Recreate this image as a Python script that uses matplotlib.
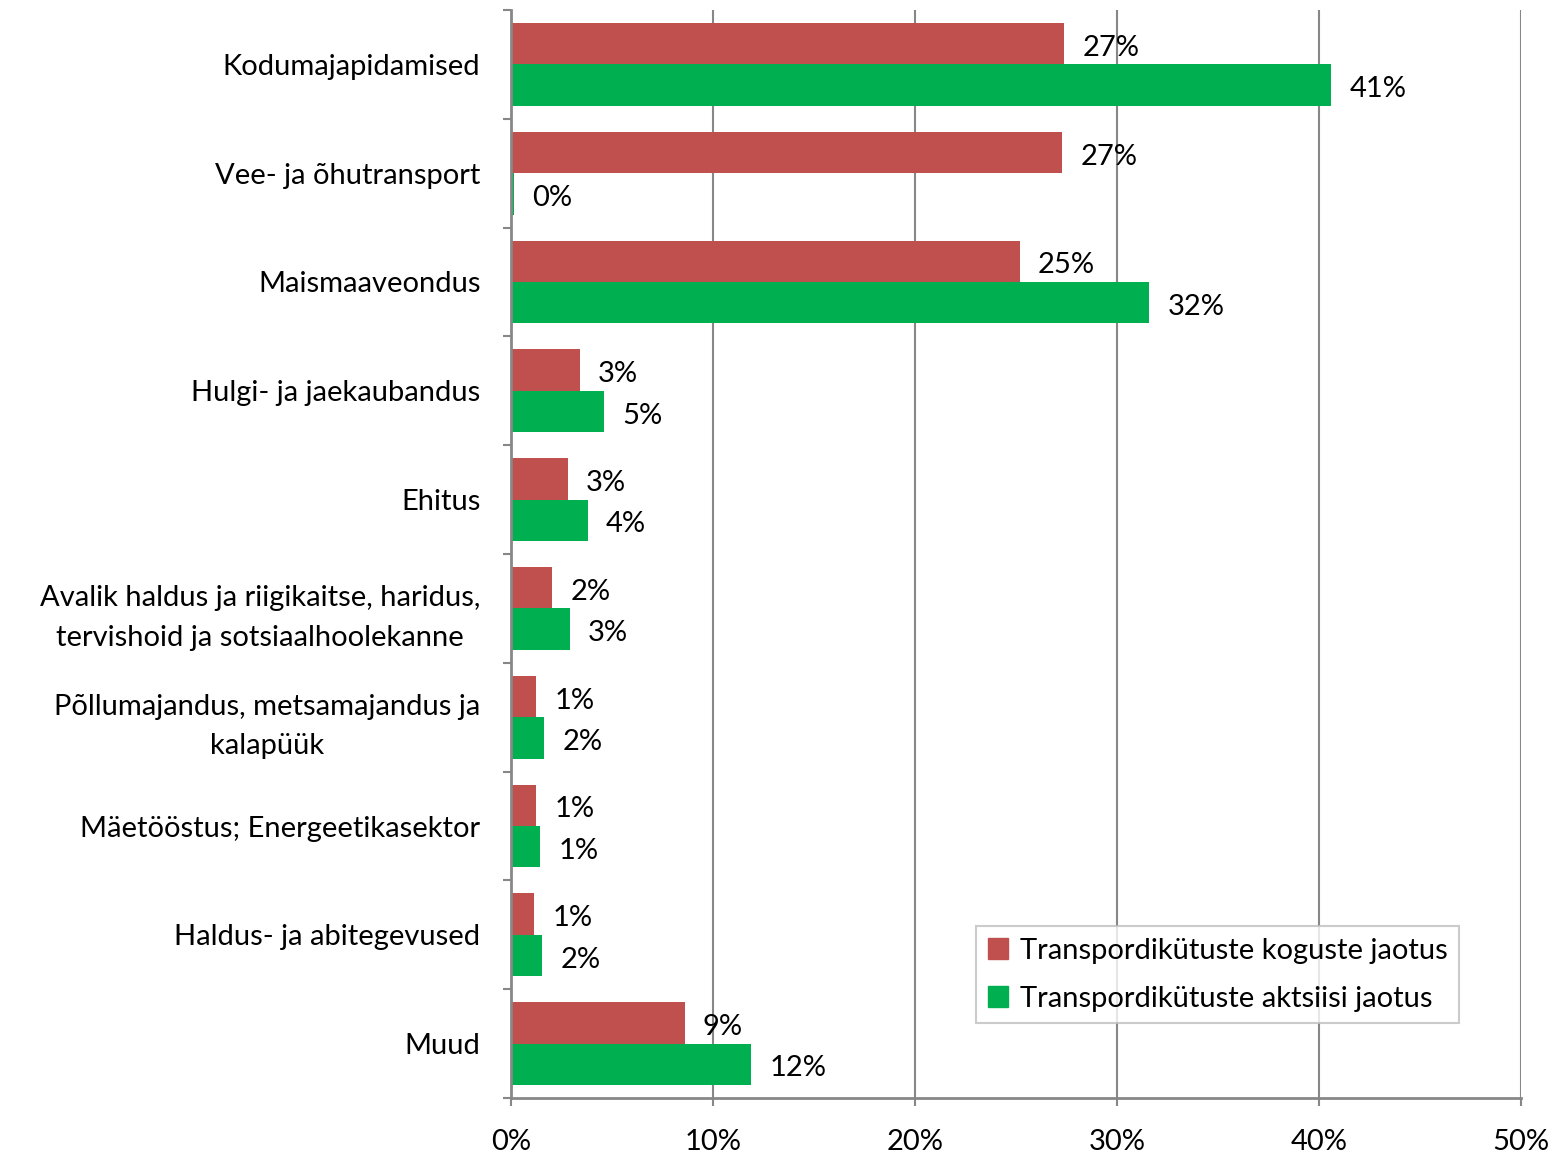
import matplotlib
matplotlib.use("Agg")
import matplotlib.pyplot as plt
from matplotlib.patches import Patch
import numpy as np

plt.rcParams['font.family'] = ['Lato', 'DejaVu Sans']

categories = [
    "Kodumajapidamised",
    "Vee- ja õhutransport",
    "Maismaaveondus",
    "Hulgi- ja jaekaubandus",
    "Ehitus",
    "Avalik haldus ja riigikaitse, haridus,\ntervishoid ja sotsiaalhoolekanne",
    "Põllumajandus, metsamajandus ja\nkalapüük",
    "Mäetööstus; Energeetikasektor",
    "Haldus- ja abitegevused",
    "Muud",
]
koguste = [27.4, 27.3, 25.2, 3.4, 2.8, 2.05, 1.25, 1.25, 1.15, 8.6]
aktsiisi = [40.6, 0.15, 31.6, 4.6, 3.8, 2.9, 1.65, 1.45, 1.55, 11.9]
series_names = ["Transpordikütuste koguste jaotus", "Transpordikütuste aktsiisi jaotus"]
xticks = [0, 10, 20, 30, 40, 50]

RED = "#C0504D"
GREEN = "#00B050"
AX = "#878787"

fig = plt.figure(figsize=(15.58, 11.55), dpi=100)
ax = fig.add_axes([511/1558, 1-1098/1155, (1521-511)/1558, (1098-10)/1155])

y = np.arange(len(categories))
h = 0.38
b1 = ax.barh(y - h/2, koguste, height=h, color=RED, zorder=3)
b2 = ax.barh(y + h/2, aktsiisi, height=h, color=GREEN, zorder=3)

fs = 21
for bars, vals in ((b1, koguste), (b2, aktsiisi)):
    for bar, v in zip(bars, vals):
        ax.annotate(f"{v:.0f}%", (bar.get_width(), bar.get_y() + bar.get_height()/2),
                    xytext=(13, -3), textcoords='offset points', va='center', ha='left',
                    fontsize=fs, color='black', zorder=4)

ax.set_xlim(0, 50)
ax.set_ylim(len(categories) - 0.5, -0.5)
ax.set_xticks(xticks)
ax.set_xticklabels([f"{t}%" for t in xticks], fontsize=fs)
ax.set_yticks(y)
ax.set_yticklabels(categories, fontsize=fs, multialignment='center', linespacing=1.65)
ax.set_yticks(np.arange(len(categories) + 1) - 0.5, minor=True)
ax.tick_params(axis='y', which='major', length=0, pad=22)
ax.tick_params(axis='y', which='minor', length=6, width=1.5, color=AX, direction='out')
ax.tick_params(axis='x', which='major', length=6, width=1.5, color=AX, direction='out', pad=16)

ax.grid(axis='x', color=AX, linewidth=1.5, zorder=0)
ax.set_axisbelow(True)
for s in ('top', 'right'):
    ax.spines[s].set_visible(False)
for s in ('left', 'bottom'):
    ax.spines[s].set_color(AX)
    ax.spines[s].set_linewidth(2)
    ax.spines[s].set_zorder(5)

handles = [Patch(color=RED, label=series_names[0]), Patch(color=GREEN, label=series_names[1])]
leg = fig.legend(handles=handles, loc='upper left', bbox_to_anchor=(976/1558, 1-926/1155),
                 fontsize=fs, frameon=True, fancybox=False, edgecolor='#BFBFBF',
                 handlelength=0.7, handleheight=0.7, handletextpad=0.4,
                 borderaxespad=0, borderpad=0.4, labelspacing=0.75)
leg.get_frame().set_linewidth(1.5)

fig.savefig("out.png", dpi=100)
